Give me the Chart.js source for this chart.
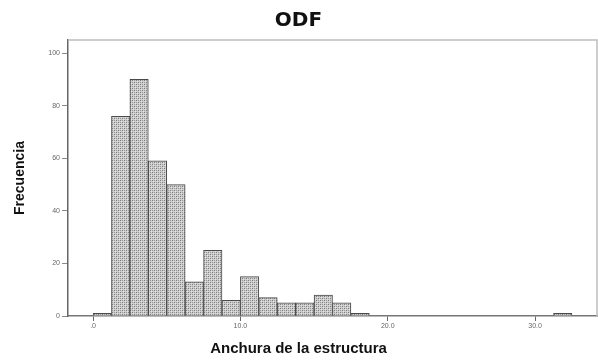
<!DOCTYPE html>
<html lang="es">
<head>
  <meta charset="UTF-8" />
  <title>ODF</title>
  <script src="https://cdn.jsdelivr.net/npm/chart.js"></script>
  <style>
    body {
      margin: 0;
      background: #fff;
    }
    canvas {
      display: block;
    }
  </style>
</head>
<body>
  <canvas id="chart" width="598" height="360"></canvas>

  <script>
    // histogram bins (start of each bin) and counts
    const binWidth = 1.25;
    const binStarts = [0, 1.25, 2.5, 3.75, 5, 6.25, 7.5, 8.75, 10, 11.25, 12.5, 13.75, 15, 16.25, 17.5, 31.25];
    const counts = [1, 76, 90, 59, 50, 13, 25, 6, 15, 7, 5, 5, 8, 5, 1, 1];
    const xTicks = [0, 10, 20, 30];
    const xTickLabels = ['.0', '10.0', '20.0', '30.0'];
    const yTicks = [0, 20, 40, 60, 80, 100];

    function makePattern() {
      const p = document.createElement('canvas');
      p.width = 4;
      p.height = 4;
      const c = p.getContext('2d');
      c.fillStyle = '#cdcdcd';
      c.fillRect(0, 0, 4, 4);
      c.fillStyle = '#7c7c7c';
      c.fillRect(0, 0, 1, 1);
      c.fillRect(2, 2, 1, 1);
      c.fillStyle = '#9c9c9c';
      c.fillRect(2, 0, 1, 1);
      c.fillRect(0, 2, 1, 1);
      c.fillStyle = '#e4e4e4';
      c.fillRect(1, 1, 1, 1);
      c.fillRect(3, 3, 1, 1);
      return document.getElementById('chart').getContext('2d').createPattern(p, 'repeat');
    }

    // light frame on top and right of the plot area
    const frame = {
      id: 'frame',
      afterDraw(chart) {
        const a = chart.chartArea;
        const ctx = chart.ctx;
        ctx.save();
        ctx.strokeStyle = '#bdbdbd';
        ctx.lineWidth = 1.5;
        ctx.beginPath();
        ctx.moveTo(a.left, a.top);
        ctx.lineTo(a.right, a.top);
        ctx.lineTo(a.right, a.bottom);
        ctx.stroke();
        ctx.restore();
      }
    };

    const points = binStarts.map((s, i) => ({ x: s + binWidth / 2, y: counts[i] }));

    new Chart(document.getElementById('chart'), {
      type: 'bar',
      data: {
        datasets: [{
          label: 'Frecuencia',
          data: points,
          backgroundColor: makePattern(),
          borderColor: '#4a4a4a',
          borderWidth: 1,
          barPercentage: 1,
          categoryPercentage: 1
        }]
      },
      options: {
        responsive: false,
        animation: false,
        layout: { padding: { left: 0, right: 1, top: 0, bottom: 0 } },
        plugins: {
          legend: { display: false },
          tooltip: { enabled: false },
          title: {
            display: true,
            text: 'ODF',
            color: '#111',
            font: { family: 'DejaVu Sans', size: 20, weight: 'bold' },
            padding: { top: 9, bottom: 7 }
          },
          subtitle: {
            display: true,
            position: 'bottom',
            text: 'Anchura de la estructura',
            color: '#111',
            font: { family: 'Liberation Sans', size: 15, weight: 'bold' },
            padding: { top: 3, bottom: 2 }
          }
        },
        scales: {
          x: {
            type: 'linear',
            offset: false,
            min: -1.7,
            max: 34.2,
            afterBuildTicks: s => { s.ticks = xTicks.map(v => ({ value: v })); },
            afterFit: s => { s.height = 21; },
            ticks: {
              autoSkip: false,
              maxRotation: 0,
              padding: 1,
              color: '#666',
              font: { family: 'Liberation Sans', size: 7 },
              callback: (v) => xTickLabels[xTicks.indexOf(v)]
            },
            grid: { offset: false, drawOnChartArea: false, tickLength: 5, color: '#666' },
            border: { color: '#777', width: 1.5 }
          },
          y: {
            min: 0,
            max: 105,
            afterBuildTicks: s => { s.ticks = yTicks.map(v => ({ value: v })); },
            afterFit: s => { s.width = 68; },
            ticks: {
              padding: 2,
              color: '#666',
              font: { family: 'Liberation Sans', size: 7 }
            },
            grid: { drawOnChartArea: false, tickLength: 6, color: '#888' },
            border: { color: '#666', width: 1.5 },
            title: {
              display: true,
              text: 'Frecuencia',
              color: '#111',
              font: { family: 'Liberation Sans', size: 14, weight: 'bold' },
              padding: { top: 12, bottom: 0 }
            }
          }
        }
      },
      plugins: [frame]
    });
  </script>
</body>
</html>
